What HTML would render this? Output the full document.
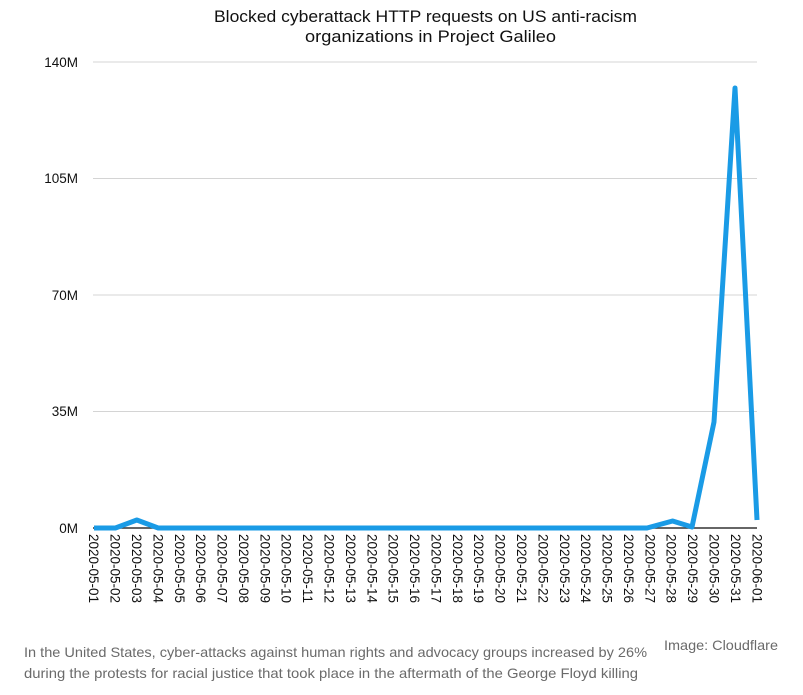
<!DOCTYPE html>
<html><head><meta charset="utf-8"><style>
body{margin:0;background:#fff;width:803px;height:695px;overflow:hidden;font-family:"Liberation Sans",Arial,sans-serif}
</style></head><body>
<svg width="803" height="695" xmlns="http://www.w3.org/2000/svg" style="position:absolute;left:0;top:0">
<g font-family="Liberation Sans, Arial, sans-serif">
<text x="214" y="22" font-size="17" textLength="423" lengthAdjust="spacingAndGlyphs" fill="#111">Blocked cyberattack HTTP requests on US anti-racism</text>
<text x="305" y="42" font-size="17" textLength="251" lengthAdjust="spacingAndGlyphs" fill="#111">organizations in Project Galileo</text>
<g stroke="#d4d4d4" stroke-width="1">
<line x1="93" x2="757" y1="62" y2="62"/><line x1="93" x2="757" y1="178.5" y2="178.5"/>
<line x1="93" x2="757" y1="295" y2="295"/><line x1="93" x2="757" y1="411.5" y2="411.5"/>
</g>
<line x1="93" x2="757" y1="528" y2="528" stroke="#333" stroke-width="1.5"/>
<g font-size="13.5" text-anchor="end" fill="#111">
<text x="78" y="67">140M</text><text x="78" y="183">105M</text><text x="78" y="300">70M</text><text x="78" y="416">35M</text><text x="78" y="533">0M</text>
</g>
<polyline fill="none" stroke="#1a9be6" stroke-width="5" stroke-linejoin="round"
points="94,528 115.4,528 136.8,520 158.2,528 179.6,528 647,528 672.6,521 692,527 714,422 735,88 757,520"/>
<g id="labels" font-size="13.5" fill="#111"></g>
<text x="24" y="657" font-size="14" textLength="623" lengthAdjust="spacingAndGlyphs" fill="#6a6a6a">In the United States, cyber-attacks against human rights and advocacy groups increased by 26%</text>
<text x="24" y="678" font-size="14" textLength="614" lengthAdjust="spacingAndGlyphs" fill="#6a6a6a">during the protests for racial justice that took place in the aftermath of the George Floyd killing</text>
<text x="664" y="650" font-size="14" textLength="114" lengthAdjust="spacingAndGlyphs" fill="#6a6a6a">Image: Cloudflare</text>
</g>
</svg>
<script>
var g=document.getElementById('labels'),s='';
for(var i=0;i<32;i++){var x=94+i*21.39;var d=i<31?'2020-05-'+String(i+1).padStart(2,'0'):'2020-06-01';
s+='<text transform="translate('+(x-4.8)+',534) rotate(90)" textLength="69" lengthAdjust="spacingAndGlyphs">'+d+'</text>';}
g.innerHTML=s;
</script>
</body></html>
